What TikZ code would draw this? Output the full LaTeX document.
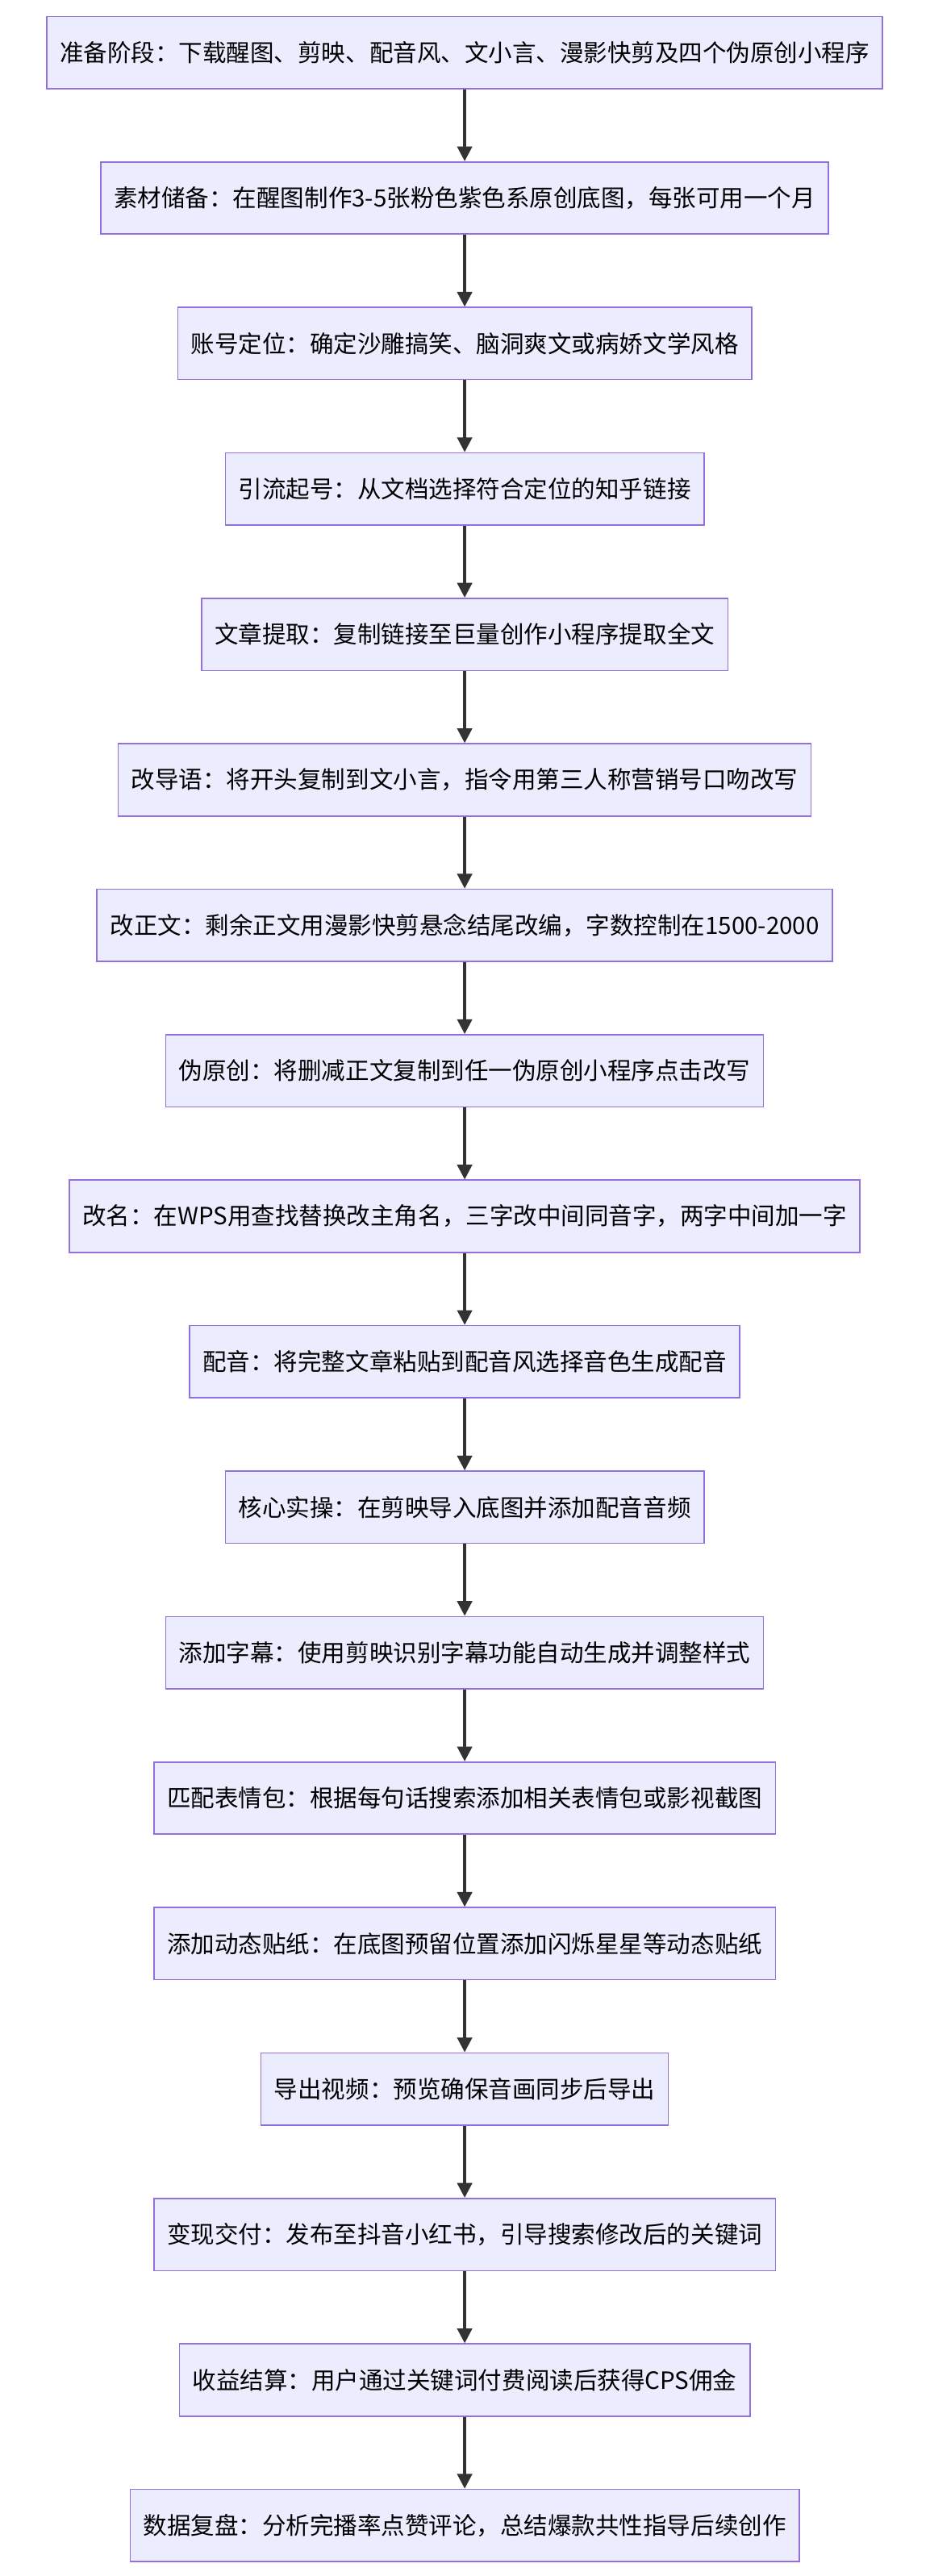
\documentclass[tikz,border=0pt]{standalone}
\usepackage{fontspec}
\setmainfont{Noto Sans CJK SC}
\usetikzlibrary{positioning,arrows.meta}
\definecolor{boxfill}{HTML}{ECECFF}
\definecolor{boxline}{HTML}{9370DB}
\definecolor{arrowgray}{HTML}{333333}
\tikzset{
  stepbox/.style={draw=boxline, fill=boxfill, line width=0.8pt, minimum height=44pt,
    inner xsep=8pt, inner ysep=2pt, font=\fontsize{14.5}{16}\selectfont},
  flow/.style={draw=arrowgray, line width=1.6pt, -{Triangle[length=9pt,width=9pt]}}
}
\begin{document}
\begin{tikzpicture}[x=1pt,y=1pt]
    % page frame
    \useasboundingbox[fill=white] (0,0) rectangle (566,-1569);

    % first step
    \node[stepbox] (s1) at (283,-32) {准备阶段：下载醒图、剪映、配音风、文小言、漫影快剪及四个伪原创小程序};

    % remaining steps, each one row below the one before
    \foreach \i/\txt in {
        2/{素材储备：在醒图制作3-5张粉色紫色系原创底图，每张可用一个月},
        3/{账号定位：确定沙雕搞笑、脑洞爽文或病娇文学风格},
        4/{引流起号：从文档选择符合定位的知乎链接},
        5/{文章提取：复制链接至巨量创作小程序提取全文},
        6/{改导语：将开头复制到文小言，指令用第三人称营销号口吻改写},
        7/{改正文：剩余正文用漫影快剪悬念结尾改编，字数控制在1500-2000},
        8/{伪原创：将删减正文复制到任一伪原创小程序点击改写},
        9/{改名：在WPS用查找替换改主角名，三字改中间同音字，两字中间加一字},
        10/{配音：将完整文章粘贴到配音风选择音色生成配音},
        11/{核心实操：在剪映导入底图并添加配音音频},
        12/{添加字幕：使用剪映识别字幕功能自动生成并调整样式},
        13/{匹配表情包：根据每句话搜索添加相关表情包或影视截图},
        14/{添加动态贴纸：在底图预留位置添加闪烁星星等动态贴纸},
        15/{导出视频：预览确保音画同步后导出},
        16/{变现交付：发布至抖音小红书，引导搜索修改后的关键词},
        17/{收益结算：用户通过关键词付费阅读后获得CPS佣金},
        18/{数据复盘：分析完播率点赞评论，总结爆款共性指导后续创作}}
    {
        \pgfmathtruncatemacro{\prev}{\i-1}
        \node[stepbox] (s\i) at (283,{-32-88.6*(\i-1)}) {\txt};
        \draw[flow] (s\prev) -- (s\i);
    }
\end{tikzpicture}
\end{document}
